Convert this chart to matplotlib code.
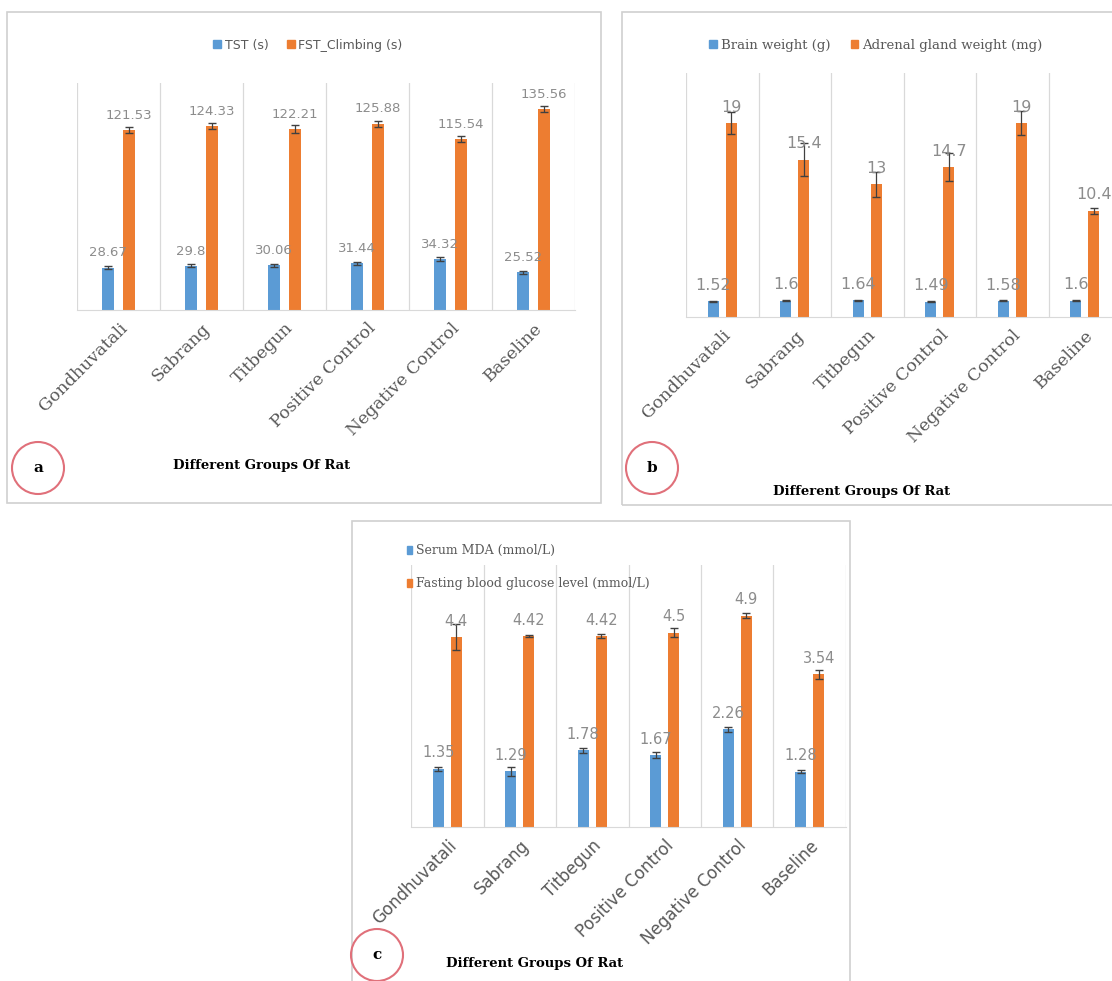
"""
Three grouped bar charts (a, b, c) for the rat study, laid out like the source figure
"""
import matplotlib
matplotlib.use("Agg")
import matplotlib.pyplot as plt
import numpy as np
from matplotlib.patches import Patch, Rectangle, Ellipse

W, H = 1112, 981

groups = ["Gondhuvatali", "Sabrang", "Titbegun", "Positive Control",
          "Negative Control", "Baseline"]

# panel a
tst = [28.67, 29.8, 30.06, 31.44, 34.32, 25.52]
tst_err = [1.0, 1.0, 1.2, 1.0, 1.2, 1.0]
fst = [121.53, 124.33, 122.21, 125.88, 115.54, 135.56]
fst_err = [2.0, 2.2, 2.6, 2.0, 2.0, 2.0]

# panel b
brain = [1.52, 1.6, 1.64, 1.49, 1.58, 1.6]
brain_err = [0.06, 0.05, 0.05, 0.06, 0.06, 0.05]
adrenal = [19, 15.4, 13, 14.7, 19, 10.4]
adrenal_err = [1.1, 1.6, 1.2, 1.4, 1.2, 0.3]

# panel c
mda = [1.35, 1.29, 1.78, 1.67, 2.26, 1.28]
mda_err = [0.05, 0.1, 0.06, 0.06, 0.05, 0.03]
glucose = [4.4, 4.42, 4.42, 4.5, 4.9, 3.54]
glucose_err = [0.3, 0.02, 0.04, 0.1, 0.05, 0.1]

BLUE = "#5B9BD5"
ORANGE = "#ED7D31"
GRID = "#d9d9d9"
LABEL_GREY = "#8c8c8c"
TEXT_GREY = "#595959"


def px_axes(fig, left, top, right, bottom):
    """Add axes given pixel box measured from top-left corner"""
    return fig.add_axes([left / W, 1 - bottom / H, (right - left) / W, (bottom - top) / H])


def fig_pt(x, y):
    """Pixel position -> figure fraction"""
    return x / W, 1 - y / H


def panel_box(fig, x0, y0, x1, y1):
    fig.add_artist(Rectangle(fig_pt(x0, y1), (x1 - x0) / W, (y1 - y0) / H,
                             transform=fig.transFigure, fill=False,
                             ec="#d0d0d0", lw=1.2))


def panel_letter(fig, letter, x, y, r=26):
    fig.add_artist(Ellipse(fig_pt(x, y), 2 * r / W, 2 * r / H,
                           transform=fig.transFigure, fill=False,
                           ec="#e0707a", lw=1.5))
    fig.text(*fig_pt(x, y), letter, ha="center", va="center",
             fontsize=11, fontweight="bold", family="DejaVu Serif")


def bar_panel(ax, s1, e1, s2, e2, ymax, fmt, label_size, tick_family, tick_size):
    """Draw the pair of bars with error bars and value labels"""
    x = np.arange(len(groups))
    off, width = 0.125, 0.15
    ax.bar(x - off, s1, width, color=BLUE, zorder=2)
    ax.bar(x + off, s2, width, color=ORANGE, zorder=2)
    ax.errorbar(x - off, s1, yerr=e1, fmt="none", ecolor="#404040",
                elinewidth=0.9, capsize=3, zorder=3)
    ax.errorbar(x + off, s2, yerr=e2, fmt="none", ecolor="#404040",
                elinewidth=0.9, capsize=3, zorder=3)

    for xi, v in zip(x - off, s1):
        ax.annotate(fmt(v), (xi, v), xytext=(0, 6), textcoords="offset points",
                    ha="center", va="bottom", fontsize=label_size, color=LABEL_GREY)
    for xi, v in zip(x + off, s2):
        ax.annotate(fmt(v), (xi, v), xytext=(0, 6), textcoords="offset points",
                    ha="center", va="bottom", fontsize=label_size, color=LABEL_GREY)

    # category separators like the Excel chart
    for b in np.arange(-0.5, len(groups) + 0.5, 1):
        ax.axvline(b, color=GRID, lw=0.9, zorder=1)

    ax.set_xlim(-0.5, len(groups) - 0.5)
    ax.set_ylim(0, ymax)
    ax.set_yticks([])
    for side in ["top", "right", "left"]:
        ax.spines[side].set_visible(False)
    ax.spines["bottom"].set_color(GRID)
    ax.set_xticks(x, groups, rotation=45, ha="right", rotation_mode="anchor",
                  family=tick_family, fontsize=tick_size, color=TEXT_GREY)
    ax.tick_params(axis="x", length=0, pad=7)
    ax.patch.set_alpha(0)


def fmt_num(v):
    return f"{v:g}"


fig = plt.figure(figsize=(W / 100, H / 100), dpi=100)

# ---- panel a ----
panel_box(fig, 7, 12, 601, 503)
ax_a = px_axes(fig, 77, 83, 575, 310)
bar_panel(ax_a, tst, tst_err, fst, fst_err, 153.3, fmt_num, 9.5, "DejaVu Serif", 12.5)
ax_a.legend(handles=[Patch(color=BLUE), Patch(color=ORANGE)],
            labels=["TST (s)", "FST_Climbing (s)"], loc="center",
            bbox_to_anchor=fig_pt(308, 45), bbox_transform=fig.transFigure,
            ncol=2, frameon=False, handlelength=0.6, handleheight=0.6,
            handletextpad=0.3, columnspacing=1.5, fontsize=9, labelcolor=TEXT_GREY)
fig.text(*fig_pt(262, 466), "Different Groups Of Rat", ha="center", va="center",
         fontsize=9.5, fontweight="bold", family="DejaVu Serif")
panel_letter(fig, "a", 38, 468)

# ---- panel b ----
panel_box(fig, 622, 12, 1125, 505)
ax_b = px_axes(fig, 686, 73, 1121, 317)
bar_panel(ax_b, brain, brain_err, adrenal, adrenal_err, 23.9, fmt_num, 11.5,
          "DejaVu Serif", 12.5)
ax_b.legend(handles=[Patch(color=BLUE), Patch(color=ORANGE)],
            labels=["Brain weight (g)", "Adrenal gland weight (mg)"], loc="center",
            bbox_to_anchor=fig_pt(876, 45), bbox_transform=fig.transFigure,
            ncol=2, frameon=False, handlelength=0.6, handleheight=0.6,
            handletextpad=0.3, columnspacing=1.5,
            labelcolor=TEXT_GREY, prop={"family": "DejaVu Serif", "size": 9.5})
fig.text(*fig_pt(862, 492), "Different Groups Of Rat", ha="center", va="center",
         fontsize=9.5, fontweight="bold", family="DejaVu Serif")
panel_letter(fig, "b", 652, 468)

# ---- panel c ----
panel_box(fig, 352, 521, 850, 995)
ax_c = px_axes(fig, 411, 565, 846, 827)
bar_panel(ax_c, mda, mda_err, glucose, glucose_err, 6.07, fmt_num, 10.5,
          "DejaVu Sans", 12)
ax_c.legend(handles=[Patch(color=BLUE), Patch(color=ORANGE)],
            labels=["Serum MDA (mmol/L)", "Fasting blood glucose level (mmol/L)"],
            loc="upper left", bbox_to_anchor=fig_pt(396, 533),
            bbox_transform=fig.transFigure, ncol=1, frameon=False,
            handlelength=0.4, handleheight=0.6, handletextpad=0.3,
            labelspacing=1.6, labelcolor=TEXT_GREY,
            prop={"family": "DejaVu Serif", "size": 9})
fig.text(*fig_pt(535, 964), "Different Groups Of Rat", ha="center", va="center",
         fontsize=9.5, fontweight="bold", family="DejaVu Serif")
panel_letter(fig, "c", 377, 955)

fig.savefig("out.png", dpi=100)
